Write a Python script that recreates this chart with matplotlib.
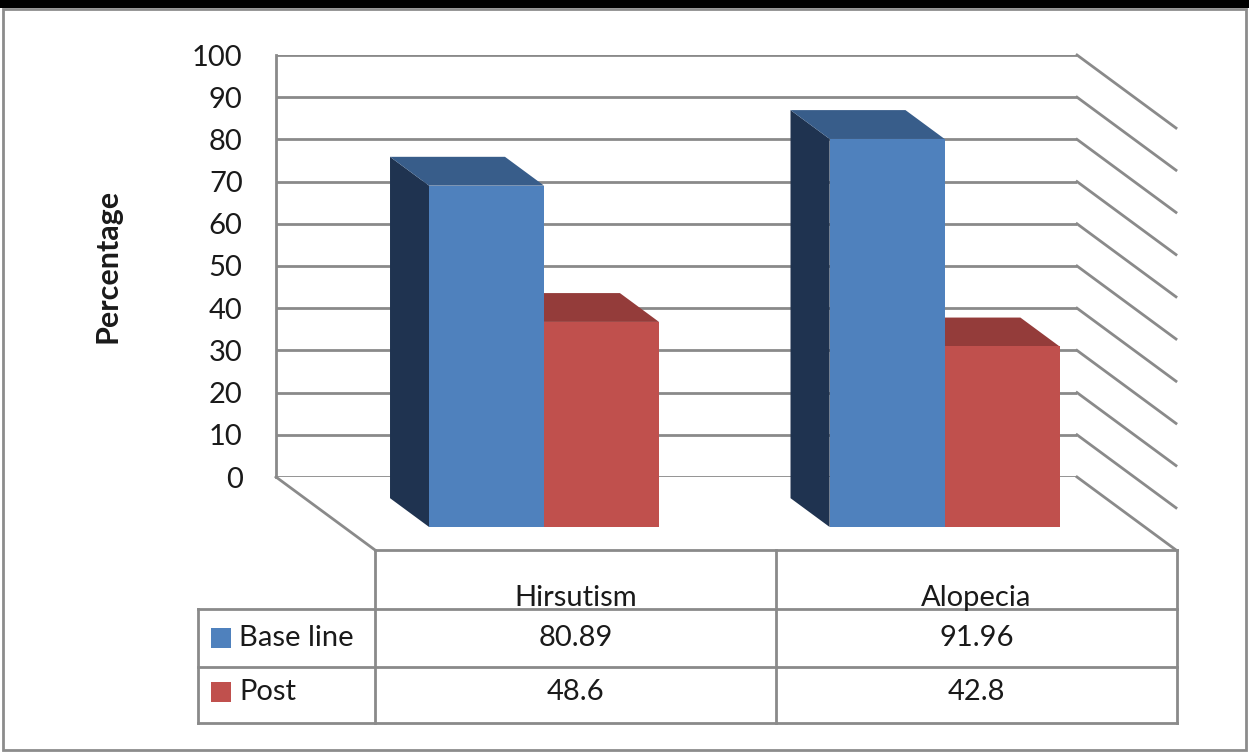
import matplotlib
matplotlib.use("Agg")
import matplotlib.pyplot as plt
from matplotlib.patches import Polygon, Rectangle
from matplotlib.lines import Line2D

# ---- data ----
categories = ["Hirsutism", "Alopecia"]
series_names = ["Base line", "Post"]
baseline = [80.89, 91.96]
post = [48.6, 42.8]
y_ticks = list(range(0, 101, 10))

# ---- style ----
FRONT = ["#4F81BD", "#C0504D"]
TOP = ["#385D8A", "#943C3A"]
SIDE = ["#1F3350", "#6E2A28"]
GRID = "#8A8A8A"
TXT = "#1A1A1A"
FONT = ["Lato", "DejaVu Sans"]

W, H = 1249, 752
fig = plt.figure(figsize=(W / 100, H / 100), dpi=100)
fig.patch.set_facecolor("white")


def fx(px):
    return px / W


def fy(py):
    return 1 - py / H


# back wall of the 3-D plot area (pixel box)
L, R, T, B = 276, 1077, 55, 477
ax = fig.add_axes([fx(L), fy(B), fx(R) - fx(L), fy(T) - fy(B)])
ax.set_xlim(-0.5, 1.5)
ax.set_ylim(0, 100)
ax.set_facecolor("none")
for s in ["top", "right", "bottom"]:
    ax.spines[s].set_visible(False)
ax.spines["left"].set_color(GRID)
ax.spines["left"].set_linewidth(2)
ax.set_xticks([])
ax.set_yticks(y_ticks)
ax.tick_params(axis="y", length=0, pad=24, labelsize=21, labelcolor=TXT)
for lab in ax.get_yticklabels():
    lab.set_fontfamily(FONT)
ax.yaxis.grid(True, color=GRID, linewidth=2)
ax.set_axisbelow(True)

fig.text(fx(108), fy(266), "Percentage", rotation=90, ha="center",
         va="center", fontsize=22, fontweight="bold", family=FONT, color=TXT)

# depth vector (back wall -> front edge) in data units
DX = 99 / ((R - L) / 2)
DY = -73 / ((B - T) / 100)

# side wall and floor lines
for v in y_ticks:
    ax.add_line(Line2D([1.5, 1.5 + DX], [v, v + DY], color=GRID, lw=2,
                       clip_on=False, zorder=1))
ax.add_line(Line2D([-0.5, -0.5 + DX], [0, DY], color=GRID, lw=2,
                   clip_on=False, zorder=1))

# bars
f_front, f_back = 0.685, 0.29
bw = 0.287
dd = f_front - f_back
values = [baseline, post]
for j in [1, 0]:
    for i in range(len(categories)):
        xc = i + f_front * DX + (j - 0.5) * bw
        bottom = f_front * DY
        top = bottom + values[j][i]
        xl, xr = xc - bw / 2, xc + bw / 2
        z = 3 + (1 - j) * 3
        side = Polygon([(xl, bottom), (xl, top), (xl - dd * DX, top - dd * DY),
                        (xl - dd * DX, bottom - dd * DY)], closed=True,
                       facecolor=SIDE[j], edgecolor="none", clip_on=False,
                       zorder=z)
        topf = Polygon([(xl, top), (xr, top), (xr - dd * DX, top - dd * DY),
                        (xl - dd * DX, top - dd * DY)], closed=True,
                       facecolor=TOP[j], edgecolor="none", clip_on=False,
                       zorder=z + 1)
        ax.add_patch(side)
        ax.add_patch(topf)
        ax.bar([xc], [values[j][i]], width=bw, bottom=bottom, color=FRONT[j],
               clip_on=False, zorder=z + 2, linewidth=0)

# ---- data table under the plot ----
tl, c1, c2, tr = 198, 375, 776, 1177
r0, r1, r2, r3 = 550, 609, 667, 723


def hline(y, x0, x1):
    fig.add_artist(Line2D([fx(x0), fx(x1)], [fy(y), fy(y)], color=GRID, lw=2))


def vline(x, y0, y1):
    fig.add_artist(Line2D([fx(x), fx(x)], [fy(y0), fy(y1)], color=GRID, lw=2))


hline(r0, c1, tr)
for y in (r1, r2, r3):
    hline(y, tl, tr)
for x in (c1, c2, tr):
    vline(x, r0, r3)
vline(tl, r1, r3)

col_centers = [(c1 + c2) / 2, (c2 + tr) / 2]
for k, name in enumerate(categories):
    fig.text(fx(col_centers[k]), fy(606), name, ha="center", va="baseline",
             fontsize=21, family=FONT, color=TXT)
rows = [638, 692]
for j, name in enumerate(series_names):
    yc = rows[j]
    fig.add_artist(Rectangle((fx(211), fy(yc + 10)), fx(20), 20 / H,
                             facecolor=FRONT[j], edgecolor="none"))
    fig.text(fx(239), fy(yc), name, ha="left", va="center", fontsize=21,
             family=FONT, color=TXT)
    for k in range(len(categories)):
        fig.text(fx(col_centers[k]), fy(yc), f"{values[j][k]:g}", ha="center",
                 va="center", fontsize=21, family=FONT, color=TXT)

# ---- outer frame ----
fig.add_artist(Rectangle((0, fy(8)), 1, 8 / H, facecolor="black",
                         edgecolor="none"))
fig.add_artist(Rectangle((fx(3), fy(750)), fx(1243), 741 / H,
                         facecolor="none", edgecolor="#8C8C8C", lw=2))

fig.savefig("out.png", dpi=100)
